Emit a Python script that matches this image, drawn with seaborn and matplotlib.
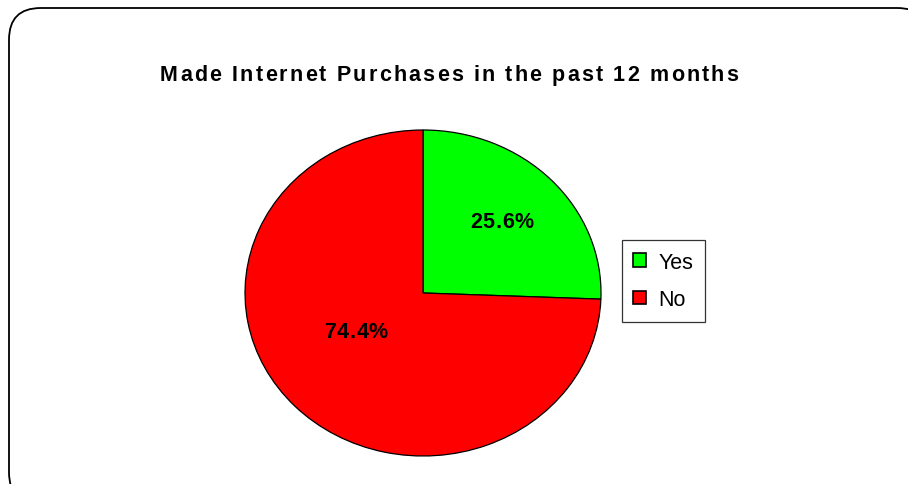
import matplotlib
matplotlib.use("Agg")
import matplotlib.pyplot as plt
from matplotlib.patches import FancyBboxPatch, Patch
from matplotlib.font_manager import FontProperties, findfont, get_font
import seaborn as sns

categories = ["Yes", "No"]
shares = [25.6, 74.4]
slice_colors = ["#00FF00", "#FF0000"]
title = "Made Internet Purchases in the past 12 months"

sns.set_theme(style="white")
plt.rcParams["font.family"] = ["Liberation Sans", "DejaVu Sans"]
plt.rcParams["text.color"] = "black"

W, H = 908, 485
DPI = 100
FAMILY = "Liberation Sans"
fig = plt.figure(figsize=(W / DPI, H / DPI), dpi=DPI)
fig.patch.set_facecolor("white")


def char_advances(text, size, weight, family):
    """Horizontal advance of every character, in pixels."""
    prop = FontProperties(family=family, weight=weight, size=size)
    font = get_font(findfont(prop))
    font.set_size(size, DPI)
    return [font.load_char(ord(c)).linearHoriAdvance / 65536 for c in text]


def spaced_text(x_px, y_px, text, size, tracking, family=FAMILY,
                weight="bold", cap=0.716):
    """Draw text centred on (x_px, y_px) (cap-height centre), letter-spaced."""
    adv = char_advances(text, size, weight, family)
    total = sum(adv) + tracking * (len(text) - 1)
    x = x_px - total / 2
    base = y_px + cap * size * DPI / 72 / 2
    for c, a in zip(text, adv):
        if c != " ":
            fig.text(x / W, 1 - base / H, c, ha="left", va="baseline",
                     fontsize=size, fontweight=weight, color="black",
                     family=family)
        x += a + tracking


# rounded chart-area frame, running off the right and bottom edges
frame = FancyBboxPatch((9 / W, -20 / H), 920 / W, (476 + 20) / H,
                       boxstyle="round,pad=0,rounding_size=0.035",
                       transform=fig.transFigure, facecolor="white",
                       edgecolor="black", linewidth=1.3, mutation_aspect=W / H,
                       zorder=-1)
fig.patches.append(frame)

# plot area for the (slightly oval) pie
cx, cy, rx, ry = 423, 294, 178, 163
ax = fig.add_axes([(cx - rx) / W, (H - cy - ry) / H, 2 * rx / W, 2 * ry / H])
wedges, _ = ax.pie(shares, colors=slice_colors, startangle=90,
                   counterclock=False, radius=1.0,
                   wedgeprops=dict(edgecolor="black", linewidth=0.9))
ax.set_aspect("auto")
ax.set_xlim(-1.0, 1.0)
ax.set_ylim(-1.0, 1.0)
ax.axis("off")

# percentage labels inside the slices (axes-fraction positions)
label_pos = [(0.722, 0.725), (0.312, 0.388)]
for v, (fx, fy) in zip(shares, label_pos):
    px = (cx - rx) + fx * 2 * rx
    py = (cy + ry) - fy * 2 * ry
    spaced_text(px, py, f"{v:.1f}%", 15.5, 0.7)

spaced_text(449, 73.5, title, 15.5, 2.2)

handles = [Patch(facecolor=c, edgecolor="black", linewidth=1.2, label=l)
           for c, l in zip(slice_colors, categories)]
leg = fig.legend(handles=handles, loc="center left",
                 bbox_to_anchor=(622 / W, 1 - 282 / H), frameon=True,
                 fancybox=False, handlelength=0.58,
                 handleheight=0.58, handletextpad=0.6, labelspacing=0.78,
                 borderpad=0.52, borderaxespad=0,
                 prop=FontProperties(family=FAMILY, size=15.5))
leg.get_frame().set_edgecolor("black")
leg.get_frame().set_linewidth(0.9)
for t in leg.get_texts():
    t.set_color("black")

fig.savefig("out.png", dpi=DPI, facecolor="white")
